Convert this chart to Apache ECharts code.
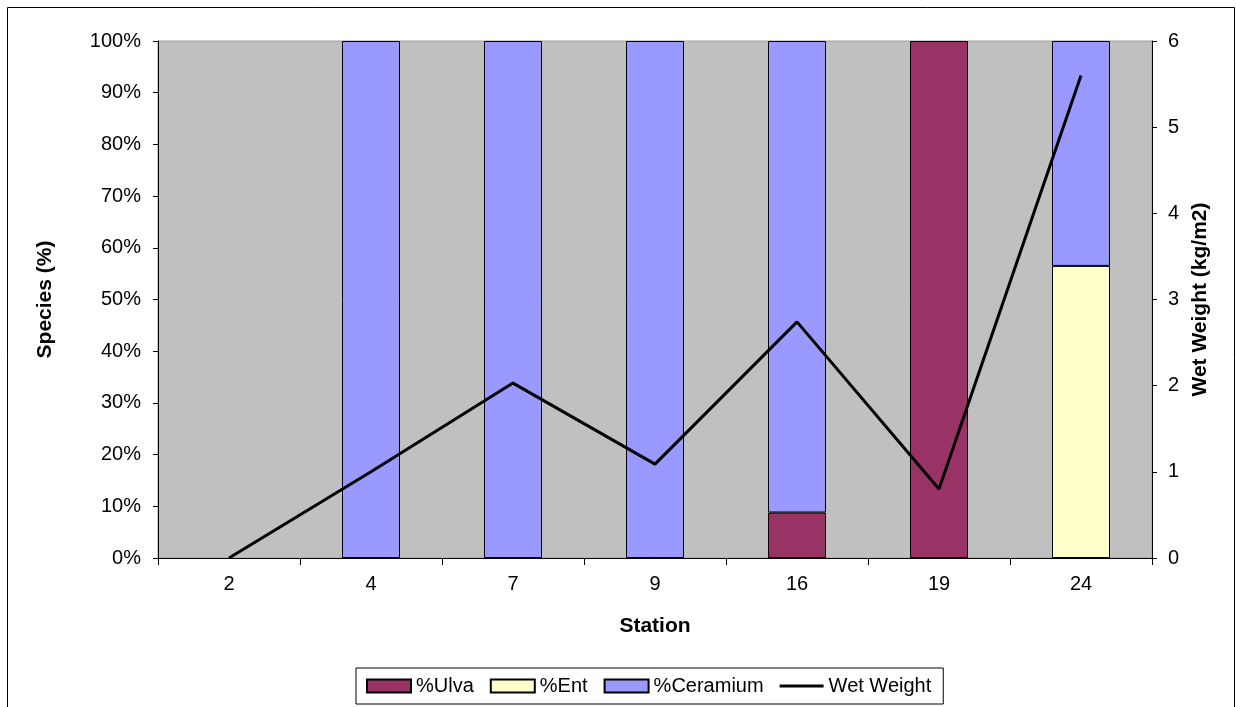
<!DOCTYPE html>
<html>
<head>
<meta charset="utf-8">
<script src="https://cdn.jsdelivr.net/npm/echarts@6/dist/echarts.min.js"></script>
<style>
html,body{margin:0;padding:0;background:#fff;}
#c{width:1236px;height:707px;}
</style>
</head>
<body>
<div id="c"></div>
<script>
const stations = ['2','4','7','9','16','19','24'];
const ulva = [0, 0, 0, 0, 8.8, 100, 0];
const ent = [0, 0, 0, 0, 0, 0, 56.5];
const ceramium = [0, 100, 100, 100, 91.2, 0, 43.5];
const wetWeight = [0, 1.0, 2.03, 1.09, 2.74, 0.8, 5.6];

const font = 'Liberation Sans, Arial, sans-serif';
const noZero = arr => arr.map(v => v === 0 ? null : v);
const chart = echarts.init(document.getElementById('c'), null, {renderer:'canvas'});
const barBase = {type:'bar', stack:'s', barWidth:58, yAxisIndex:0};
chart.setOption({
  animation:false,
  backgroundColor:'#fff',
  textStyle:{fontFamily:font},
  graphic:[{type:'rect', shape:{x:7.5,y:7.5,width:1227,height:720}, style:{fill:'none', stroke:'#000', lineWidth:1}, z:-1}],
  grid:{left:158, right:84, top:41, bottom:149, show:true, backgroundColor:'#C0C0C0', borderColor:'#a0a0a0', borderWidth:1},
  legend:{
    bottom:3, left:356, orient:'horizontal',
    backgroundColor:'#fff', borderColor:'#000', borderWidth:1,
    padding:[8,12,8,10], itemGap:16, itemWidth:44, itemHeight:13,
    textStyle:{fontSize:20, color:'#000', fontFamily:font},
    data:[
      {name:'%Ulva', icon:'rect'},
      {name:'%Ent', icon:'rect'},
      {name:'%Ceramium', icon:'rect'},
      {name:'Wet Weight', icon:'path://M0,5 L40,5 L40,7.6 L0,7.6 Z', itemStyle:{color:'#000', borderWidth:0}}
    ]
  },
  xAxis:{
    type:'category', data:stations, boundaryGap:true,
    name:'Station', nameLocation:'middle', nameGap:58,
    nameTextStyle:{fontSize:21, fontWeight:'bold', color:'#000', fontFamily:font},
    axisLine:{lineStyle:{color:'#000', width:1}},
    axisTick:{show:true, length:7, lineStyle:{color:'#000'}},
    axisLabel:{fontSize:20, color:'#000', margin:16, fontFamily:font},
    splitLine:{show:false}
  },
  yAxis:[
    {type:'value', min:0, max:100, interval:10,
     name:'Species (%)', nameLocation:'middle', nameGap:102, nameRotate:90,
     nameTextStyle:{fontSize:21, fontWeight:'bold', color:'#000', fontFamily:font},
     axisLine:{show:true, lineStyle:{color:'#000'}},
     axisTick:{show:true, length:5, lineStyle:{color:'#000'}},
     axisLabel:{fontSize:20, color:'#000', margin:17, formatter:v=>v+'%', fontFamily:font},
     splitLine:{show:false}},
    {type:'value', min:0, max:6, interval:1, position:'right',
     name:'Wet Weight (kg/m2)', nameLocation:'middle', nameGap:37, nameRotate:90,
     nameTextStyle:{fontSize:21, fontWeight:'bold', color:'#000', fontFamily:font},
     axisLine:{show:true, lineStyle:{color:'#000'}},
     axisTick:{show:true, length:5, lineStyle:{color:'#000'}},
     axisLabel:{fontSize:20, color:'#000', margin:16, fontFamily:font},
     splitLine:{show:false}}
  ],
  series:[
    Object.assign({}, barBase, {name:'%Ulva', data:noZero(ulva), itemStyle:{color:'#993366', borderColor:'#000', borderWidth:1}}),
    Object.assign({}, barBase, {name:'%Ent', data:noZero(ent), itemStyle:{color:'#FFFFCC', borderColor:'#000', borderWidth:1}}),
    Object.assign({}, barBase, {name:'%Ceramium', data:noZero(ceramium), itemStyle:{color:'#9999FF', borderColor:'#000', borderWidth:1}}),
    {type:'line', name:'Wet Weight', yAxisIndex:1, data:wetWeight, symbol:'none', showSymbol:false,
     lineStyle:{color:'#000', width:3}, itemStyle:{color:'#000'}, z:5}
  ]
});
</script>
</body>
</html>
